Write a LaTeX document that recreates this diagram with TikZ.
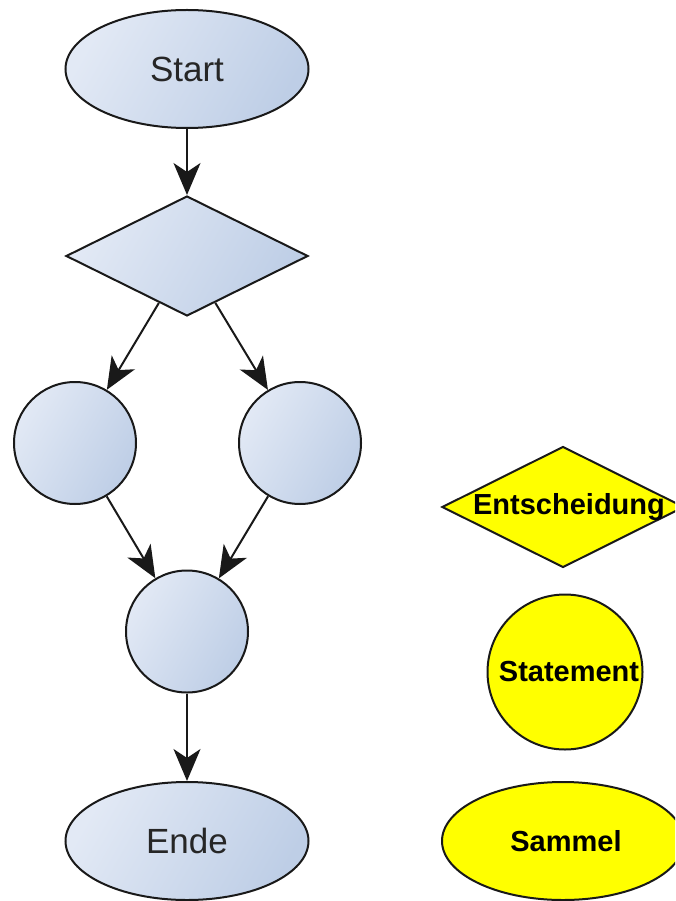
\documentclass[tikz,border=0pt]{standalone}
\usepackage{fontspec}
\setmainfont{Liberation Sans}
\usetikzlibrary{shapes.geometric,arrows.meta}
\definecolor{flowlight}{RGB}{226,233,245}
\definecolor{flowdark}{RGB}{190,206,230}
\definecolor{legendyellow}{RGB}{255,255,0}

\begin{document}
\begin{tikzpicture}[x=1pt,y=-1pt,
  flowshape/.style={draw=black!90, line width=2pt, top color=flowlight,
    bottom color=flowdark, shading angle=60, inner sep=0pt,
    font=\fontsize{35}{42}\selectfont, text=black!85},
  legendshape/.style={draw=black!90, line width=2pt, fill=legendyellow,
    inner sep=0pt, font=\bfseries\fontsize{29}{34}\selectfont, text=black},
  terminal/.style={ellipse, minimum width=243pt, minimum height=118pt},
  branch/.style={diamond, minimum width=242pt, minimum height=120pt},
  stmt/.style={circle, minimum size=122pt},
  flow/.style={draw=black!90, line width=2pt,
    -{Stealth[length=32pt,width=27pt,inset=9pt]}}
]
\useasboundingbox (0,0) rectangle (675,901);
\clip (0,0) rectangle (675,901);

% main flow
\node[flowshape, terminal] (start) at (187,69) {Start};
\node[flowshape, branch] (decide) at (187,256) {};
\node[flowshape, stmt] (left) at (75,443) {};
\node[flowshape, stmt] (right) at (300,443) {};
\node[flowshape, stmt] (join) at (187,631.5) {};
\node[flowshape, terminal] (end) at (187,841) {Ende};

\draw[flow] (start) -- (decide);
\draw[flow] (decide) -- (left);
\draw[flow] (decide) -- (right);
\draw[flow] (left) -- (join);
\draw[flow] (right) -- (join);
\draw[flow] (join) -- (end);

% legend
\node[legendshape, branch, minimum height=121pt] (legdecide) at (563,507)
  {\makebox[0pt]{\hspace{12pt}Entscheidung}};
\node[legendshape, circle, minimum size=155pt] (legstmt) at (565,672)
  {\hspace{8pt}Statement};
\node[legendshape, terminal, minimum width=242pt] (legjoin) at (563,841)
  {\makebox[0pt]{\hspace{6pt}Sammel}};
\end{tikzpicture}
\end{document}
